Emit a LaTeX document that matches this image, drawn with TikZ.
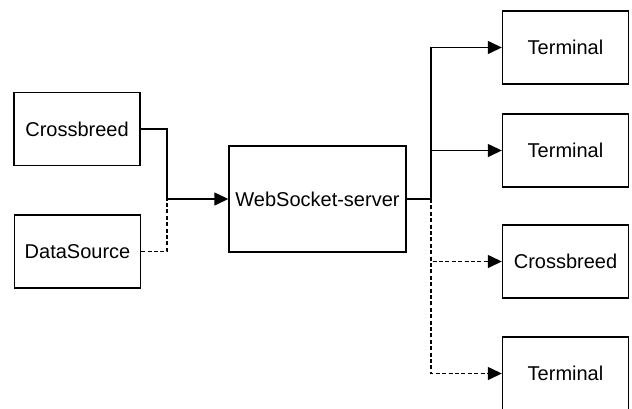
\documentclass[tikz,border=0pt]{standalone}
\usepackage{fontspec}
\setmainfont{Liberation Sans}
\usetikzlibrary{arrows.meta}

\begin{document}
\begin{tikzpicture}[x=0.5pt,y=-0.5pt,line width=0.7pt,
    box/.style={draw,minimum width=63pt,minimum height=36.5pt,inner sep=0pt,font=\fontsize{10}{12}\selectfont},
    arr/.style={-{Triangle[length=7pt,width=6.5pt]}},
    dashline/.style={dash pattern=on 2pt off 1.2pt}]
  \useasboundingbox (0,0) rectangle (632,408);
  \node[box] (cbl) at (77,129) {Crossbreed};
  \node[box] (ds) at (77.5,251.5) {DataSource};
  \node[box,minimum width=88.5pt,minimum height=53pt] (ws) at (317.5,199) {WebSocket-server};
  \node[box] (t1) at (565.5,47.5) {Terminal};
  \node[box] (t2) at (565.5,150.5) {Terminal};
  \node[box] (cbr) at (565.5,261.5) {Crossbreed};
  \node[box] (t4) at (565.5,373.5) {Terminal};
  \coordinate (jl) at (167,199);
  \coordinate (jr) at (431,199);
  \draw (cbl.east) -| (jl);
  \draw[dashline] (ds.east) -| (jl);
  \draw[arr] (jl) -- (ws.west);
  \draw (ws.east) -- (jr);
  \draw[arr] (jr) |- (t1.west);
  \draw[arr] (jr) |- (t2.west);
  \draw[arr,dashline] (jr) |- (cbr.west);
  \draw[arr,dashline] (jr) |- (t4.west);
\end{tikzpicture}
\end{document}
